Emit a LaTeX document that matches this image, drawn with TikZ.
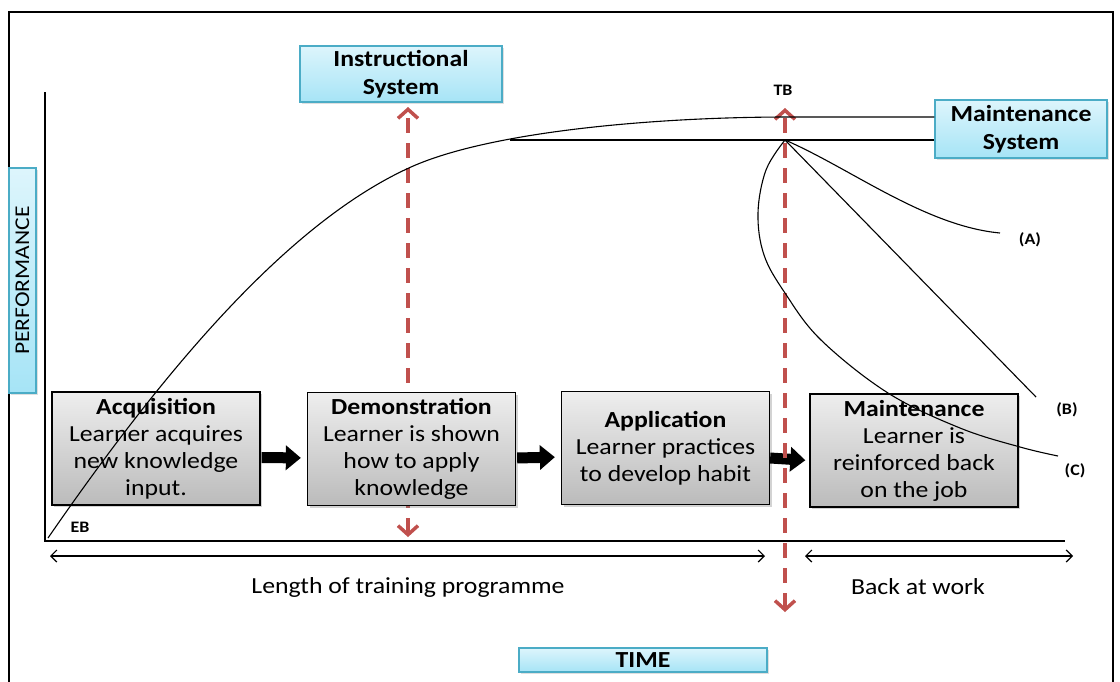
\documentclass[tikz,border=0pt]{standalone}
\usepackage{fontspec}
\setmainfont{Carlito}[FakeStretch=1.12]
\usetikzlibrary{arrows.meta,shadows}

\definecolor{edgecyan}{HTML}{4BACC6}
\definecolor{cyantop}{HTML}{DDF5FC}
\definecolor{cyanbot}{HTML}{A6E4F6}
\definecolor{graytop}{HTML}{EEEEEE}
\definecolor{graybot}{HTML}{BBBBBB}
\definecolor{dashred}{HTML}{C0504D}

\tikzset{
  labelbox/.style={draw=edgecyan, line width=1.2pt, top color=cyantop, bottom color=cyanbot,
    drop shadow={opacity=0.25, shadow xshift=1.5pt, shadow yshift=-1.5pt},
    inner sep=0pt, align=center, font=\fontsize{23}{28}\selectfont\bfseries},
  stagebox/.style={draw=black, line width=1.3pt, top color=graytop, bottom color=graybot,
    drop shadow={opacity=0.35, shadow xshift=2pt, shadow yshift=-2pt},
    inner sep=0pt, align=center, minimum width=208pt, minimum height=113pt,
    font=\fontsize{23}{27}\selectfont},
  marker/.style={font=\fontsize{16}{18}\selectfont\bfseries},
  caption/.style={font=\fontsize{23}{26}\selectfont},
  axisline/.style={line width=1.6pt},
  curveline/.style={line width=1.1pt},
  spanarrow/.style={line width=1.2pt,
    arrows={Straight Barb[length=6pt,width=12pt]-Straight Barb[length=6pt,width=12pt]}},
  blockarrow/.style={line width=11pt, -{Triangle[length=15pt,width=24pt]}},
  phasearrow/.style={dashred, line width=3.5pt, dash pattern=on 15pt off 10pt,
    arrows={Straight Barb[length=9pt,width=20pt]-Straight Barb[length=9pt,width=20pt]}}
}

\begin{document}
\begin{tikzpicture}[x=1pt,y=-1pt]
  \useasboundingbox (0,0) rectangle (1120,681);

  % outer frame (open at the bottom edge of the page)
  \draw[line width=1.6pt] (9,690) -- (9,12) -- (1113,12) -- (1113,690);

  % axes
  \coordinate (ytop) at (45,92);
  \coordinate (origin) at (45,541);
  \coordinate (xend) at (1065,541);
  \draw[axisline] (ytop) -- (origin) -- (xend);

  % axis labels
  \node[labelbox, rotate=90, minimum width=225pt, minimum height=27pt,
        font=\fontsize{21}{24}\selectfont, drop shadow={opacity=0}] (perf) at (22.5,280.5) {PERFORMANCE};
  \node[labelbox, minimum width=248pt, minimum height=24pt] (time) at (643,660) {TIME};

  % system boxes
  \node[labelbox, minimum width=202pt, minimum height=56pt] (isys) at (401,74) {Instructional\\System};
  \node[labelbox, minimum width=172pt, minimum height=58pt] (msys) at (1021,129) {Maintenance\\System};

  % stages of training
  \node[stagebox] (acq) at (156,448.5) {\textbf{Acquisition}\\Learner acquires\\new knowledge\\input.};
  \node[stagebox] (app) at (665.5,448) {\textbf{Application}\\Learner practices\\to develop habit};
  \node[stagebox] (mnt) at (914,450.5) {\textbf{Maintenance}\\Learner is\\reinforced back\\on the job};
  \coordinate (demc) at (411.5,449);

  % phase boundaries (they pass behind the Demonstration box)
  \coordinate (isysTop) at (408,107);
  \coordinate (isysBot) at (408,537);
  \coordinate (msysTop) at (785,108);
  \coordinate (msysBot) at (785,612);

  \draw[blockarrow, shorten >=4pt] ([yshift=-10pt]app.east) -- ([yshift=-10pt]mnt.west);
  \draw[phasearrow] (isysBot) -- (isysTop);
  \draw[phasearrow] (msysBot) -- (msysTop);

  \node[stagebox] (dem) at (demc) {\textbf{Demonstration}\\Learner is shown\\how to apply\\knowledge};

  \draw[blockarrow, shorten >=6pt, shorten <=1pt] ([yshift=-9pt]acq.east) -- ([yshift=-9pt]dem.west);
  \draw[blockarrow, shorten >=6pt, shorten <=1pt] ([yshift=-9pt]dem.east) -- ([yshift=-9pt]app.west);

  % learning curve and plateau
  \coordinate (eb) at (48,538);
  \coordinate (tb) at (785,140);
  \coordinate (plateau) at (510,140);
  \draw[curveline] (eb) .. controls (168,364) and (291,221) .. (411,167)
                        .. controls (491,131) and (658,117) .. (788,117)
                        -- (msys.west |- 0,117);
  \draw[curveline] (plateau) -- (msys.west |- tb);

  % decay branches after training
  \coordinate (endA) at (1000,233);
  \coordinate (endB) at (1036,397);
  \coordinate (endC) at (1058,456);
  \draw[curveline] (tb) .. controls (850,168) and (925,226) .. (endA);
  \draw[curveline] (tb) -- (endB);
  \draw[curveline] plot[smooth, tension=0.6] coordinates
    {(785,140) (766,170) (758,213) (764,255) (785,293) (821,340) (888,393) (960,428) (1020,447) (1058,456)};

  \node[marker] (lA) at (1030,240) {(A)};
  \node[marker] (lB) at (1067,410) {(B)};
  \node[marker] (lC) at (1075,471) {(C)};
  \node[marker] (lTB) at (783,90) {TB};
  \node[marker] (lEB) at (80,527) {EB};

  % time spans
  \coordinate (trainL) at (50,556);
  \coordinate (trainR) at (765,556);
  \coordinate (workL) at (805,556);
  \coordinate (workR) at (1073,556);
  \draw[spanarrow] (trainL) -- (trainR);
  \draw[spanarrow] (workL) -- (workR);
  \node[caption] (ltrain) at (408,587) {Length of training programme};
  \node[caption] (lwork) at (918,587) {Back at work};
\end{tikzpicture}
\end{document}
